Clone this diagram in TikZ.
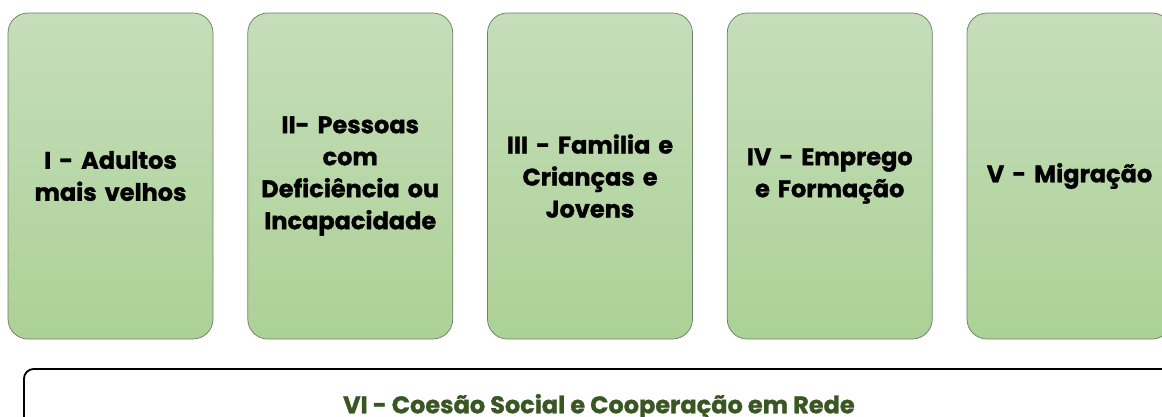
\documentclass[tikz,border=0pt]{standalone}
\usepackage{fontspec}
\newfontfamily\popfont{Poppins}[BoldFont={Poppins Bold},BoldFeatures={FakeBold=1.2}]
\usetikzlibrary{positioning}

\definecolor{areatop}{RGB}{197,222,186}
\definecolor{areabot}{RGB}{172,209,150}
\definecolor{arealine}{RGB}{112,128,104}
\definecolor{redegreen}{RGB}{56,87,35}

\tikzset{every picture/.style={line width=0.75pt}}

\begin{document}
\begin{tikzpicture}[x=1pt,y=-1pt,
  area/.style={draw=arealine,rounded corners=20pt,top color=areatop,bottom color=areabot,
    minimum width=205pt,minimum height=326pt,text width=200pt,align=center,
    inner sep=0pt,font=\popfont\bfseries\fontsize{24}{32}\selectfont},
  rede/.style={draw=black,line width=1.8pt,rounded corners=10pt,fill=white,
    minimum width=1150pt,minimum height=76pt,inner sep=0pt,
    font=\popfont\bfseries\fontsize{24}{32}\selectfont,text=redegreen}]
\useasboundingbox (0,0) rectangle (1162,416);
\clip (0,0) rectangle (1162,416);
\node [area] (a1) at (110.5,176) {I - Adultos\\mais velhos};
\node [area,right=34pt of a1] (a2) {II- Pessoas\\com\\Deficiência ou\\Incapacidade};
\node [area,right=34pt of a2] (a3) {III - Familia e\\Crianças e\\Jovens};
\node [area,right=34pt of a3] (a4) {IV - Emprego\\e Formação};
\node [area,right=34pt of a4] (a5) {V - Migração};
\node [rede,anchor=north west] (a6) at (23,368) {VI - Coesão Social e Cooperação em Rede};
\end{tikzpicture}
\end{document}
